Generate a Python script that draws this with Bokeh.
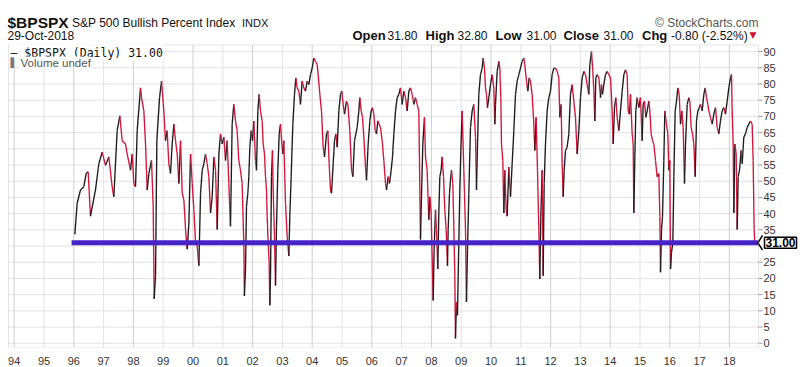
from bokeh.plotting import figure
from bokeh.models import ColumnDataSource, FixedTicker, Label, Range1d, BoxAnnotation
from bokeh.core.properties import value
from bokeh.embed import file_html
from bokeh.resources import INLINE

# ---- data ----
years = [
 1996.035,1996.113,1996.225,1996.337,1996.415,1996.482,1996.560,1996.728,1996.840,1996.952,
 1997.064,1997.176,1997.287,1997.343,1997.455,1997.545,1997.623,1997.735,1997.791,1997.903,1997.959,
 1998.015,1998.071,1998.127,1998.239,1998.272,1998.351,1998.407,1998.463,1998.519,1998.608,1998.664,
 1998.698,1998.743,1998.787,1998.877,1998.944,
 1999.021,1999.077,1999.133,1999.189,1999.245,1999.301,1999.358,1999.414,1999.470,1999.526,1999.582,
 1999.638,1999.694,1999.750,1999.806,1999.862,1999.918,1999.974,
 2000.030,2000.086,2000.140,2000.197,2000.253,2000.309,2000.364,2000.420,2000.476,2000.532,2000.588,
 2000.644,2000.700,2000.756,2000.812,2000.868,2000.923,2000.979,
 2001.035,2001.091,2001.147,2001.202,2001.258,2001.314,2001.370,2001.426,2001.482,2001.537,2001.593,
 2001.649,2001.705,2001.725,2001.762,2001.795,2001.840,2001.874,2001.907,2001.952,2001.997,
 2002.041,2002.097,2002.131,2002.176,2002.220,2002.265,2002.321,2002.355,2002.399,2002.433,2002.466,
 2002.489,2002.522,2002.556,2002.578,2002.601,2002.634,2002.668,2002.690,2002.735,2002.769,2002.802,
 2002.847,2002.892,2002.936,2002.981,
 2003.015,2003.048,2003.104,2003.160,2003.216,2003.249,2003.294,2003.350,2003.406,2003.451,2003.496,
 2003.552,2003.607,2003.663,2003.719,2003.775,2003.831,2003.887,2003.943,2003.999,
 2004.055,2004.111,2004.167,2004.200,2004.256,2004.312,2004.368,2004.413,2004.480,2004.525,2004.569,
 2004.614,2004.648,2004.704,2004.748,2004.793,2004.838,2004.894,2004.950,2004.994,
 2005.039,2005.084,2005.151,2005.196,2005.263,2005.319,2005.364,2005.420,2005.464,2005.509,2005.565,
 2005.598,2005.643,2005.688,2005.733,2005.789,2005.822,2005.878,2005.934,2005.979,
 2006.024,2006.068,2006.113,2006.158,2006.203,2006.247,2006.292,2006.348,2006.404,2006.460,2006.494,
 2006.550,2006.594,2006.650,2006.695,2006.740,2006.796,2006.852,2006.907,2006.963,
 2007.019,2007.075,2007.131,2007.187,2007.243,2007.299,2007.355,2007.411,2007.466,2007.522,2007.578,
 2007.634,2007.667,2007.712,2007.768,2007.802,2007.857,2007.913,2007.947,2007.992,
 2008.025,2008.059,2008.092,2008.137,2008.171,2008.215,2008.249,2008.283,2008.327,2008.361,2008.406,
 2008.450,2008.495,2008.540,2008.562,2008.607,2008.640,2008.674,2008.719,2008.752,2008.786,2008.808,
 2008.842,2008.875,2008.920,2008.954,2008.987,
 2009.032,2009.088,2009.144,2009.177,2009.211,2009.256,2009.312,2009.368,2009.423,2009.480,2009.513,
 2009.547,2009.591,2009.647,2009.703,2009.737,2009.782,2009.815,2009.849,2009.882,2009.927,2009.983,
 2010.039,2010.095,2010.128,2010.151,2010.207,2010.263,2010.296,2010.330,2010.352,2010.397,2010.430,
 2010.464,2010.509,2010.542,2010.598,2010.654,2010.710,2010.766,2010.822,2010.878,2010.934,2010.990,
 2011.045,2011.101,2011.135,2011.191,2011.236,2011.280,2011.325,2011.381,2011.437,2011.470,2011.515,
 2011.560,2011.605,2011.638,2011.672,2011.717,2011.750,2011.784,2011.828,2011.884,2011.940,2011.996,
 2012.052,2012.108,2012.164,2012.220,2012.276,2012.309,2012.354,2012.388,2012.421,2012.455,2012.500,
 2012.555,2012.611,2012.667,2012.723,2012.779,2012.835,2012.891,2012.947,
 2013.003,2013.059,2013.115,2013.171,2013.227,2013.283,2013.316,2013.372,2013.417,2013.451,2013.484,
 2013.518,2013.563,2013.619,2013.675,2013.708,2013.742,2013.786,2013.842,2013.898,2013.954,
 2014.010,2014.066,2014.100,2014.144,2014.189,2014.234,2014.290,2014.346,2014.402,2014.458,2014.513,
 2014.569,2014.603,2014.648,2014.681,2014.737,2014.771,2014.793,2014.827,2014.860,2014.905,2014.961,
 2015.017,2015.073,2015.106,2015.151,2015.196,2015.241,2015.297,2015.330,2015.375,2015.420,2015.464,
 2015.520,2015.576,2015.632,2015.666,2015.688,2015.722,2015.755,2015.800,2015.833,2015.889,2015.934,
 2015.968,
 2016.001,2016.024,2016.057,2016.102,2016.136,2016.180,2016.225,2016.270,2016.315,2016.359,2016.404,
 2016.449,2016.493,2016.527,2016.583,2016.639,2016.672,2016.717,2016.762,2016.807,2016.851,2016.896,
 2016.941,2016.986,
 2017.030,2017.086,2017.142,2017.187,2017.232,2017.276,2017.310,2017.366,2017.422,2017.478,2017.534,
 2017.590,2017.646,2017.701,2017.757,2017.813,2017.869,2017.925,2017.981,
 2018.037,2018.071,2018.093,2018.127,2018.149,2018.183,2018.227,2018.261,2018.294,2018.339,2018.395,
 2018.429,2018.484,2018.540,2018.596,2018.652,2018.708,2018.764,2018.797,2018.831,2018.853,
]
bpi = [
 33.6,43.2,47.3,48.3,52.4,52.9,39.2,47.3,55.4,59.0,
 54.9,57.5,48.3,45.2,65.6,70.2,62.5,61.5,58.4,53.4,58.4,
 49.3,48.3,65.6,78.8,75.8,71.7,61.5,47.3,52.4,56.4,42.2,
 13.7,20.9,62.5,75.8,80.9,
 71.7,62.5,65.6,55.4,52.4,61.5,67.6,62.5,58.4,49.3,62.5,
 46.3,44.2,35.1,29.0,37.1,58.4,49.3,
 41.2,31.0,30.0,23.9,46.3,53.4,55.4,58.4,55.4,51.4,40.2,
 45.2,57.5,53.4,35.1,58.4,64.6,61.5,
 63.6,56.4,62.5,49.3,36.1,67.6,73.7,68.6,65.6,56.4,53.4,
 49.3,31.0,14.6,22.9,42.2,46.3,51.4,60.5,65.6,62.5,
 68.6,56.4,53.4,71.7,76.8,71.7,68.6,61.5,58.4,51.4,47.3,
 39.2,31.0,24.9,11.7,20.8,51.4,59.5,47.3,33.0,17.8,36.1,
 53.4,64.6,67.6,61.5,
 58.4,62.5,43.2,33.0,26.9,39.2,51.4,67.6,76.8,81.9,78.8,
 77.8,73.7,80.9,78.8,77.8,80.9,79.8,82.9,84.9,
 88.0,87.0,86.0,82.9,76.8,71.7,60.5,57.5,64.6,65.6,55.4,
 47.3,46.3,55.4,62.5,64.6,60.5,71.7,76.8,77.8,
 73.7,70.7,74.7,73.7,65.6,53.4,51.4,62.5,64.6,66.6,71.7,
 75.8,71.7,69.7,63.6,54.4,50.3,61.5,68.6,71.7,
 72.7,70.7,65.6,64.6,68.6,67.6,66.6,62.5,56.4,49.3,47.3,
 51.4,49.3,53.4,57.5,64.6,71.7,75.8,76.8,78.8,
 73.7,77.8,75.8,71.7,77.8,78.8,76.8,73.7,75.8,73.7,71.7,
 32.0,45.2,61.5,69.7,57.5,53.4,38.1,45.2,40.2,
 26.9,13.2,29.0,41.2,35.1,22.9,40.2,51.4,53.4,57.5,51.4,
 41.2,35.1,23.9,35.1,46.3,50.3,53.4,49.3,36.1,20.8,1.5,
 12.7,8.6,31.0,47.3,59.5,
 71.7,53.4,35.1,12.7,29.0,46.3,66.6,71.7,73.7,63.6,47.3,
 61.5,76.8,82.9,84.9,88.0,84.9,78.8,76.8,72.7,75.8,79.8,
 82.9,78.8,67.6,73.7,83.9,87.0,84.9,75.8,61.5,56.4,40.2,
 53.4,41.2,39.2,54.4,45.2,55.4,65.6,76.8,80.9,82.9,84.9,
 87.0,88.0,85.9,80.9,77.8,81.9,80.9,76.8,67.6,59.5,69.7,
 53.4,35.1,19.8,39.2,53.4,20.8,49.3,61.5,71.7,75.8,77.8,
 82.9,84.9,84.9,83.9,81.9,69.7,73.7,55.4,45.2,53.4,59.5,
 60.5,64.6,76.8,79.8,74.7,69.7,58.4,65.6,
 75.8,81.9,83.9,82.9,79.8,76.8,85.9,90.0,83.9,78.0,68.6,
 81.9,82.9,81.9,75.8,79.8,76.8,79.8,82.9,83.9,82.9,
 81.9,71.7,61.5,72.7,75.8,69.7,65.6,71.7,77.8,82.9,84.4,
 82.9,71.7,70.7,76.8,64.6,61.5,40.2,57.5,71.7,75.8,72.7,
 75.8,62.5,73.7,74.7,69.7,71.7,74.7,71.7,64.6,62.5,61.5,
 56.4,51.4,52.4,39.2,21.9,35.1,39.2,56.4,71.7,67.6,64.6,
 53.4,
 56.4,22.9,28.0,31.0,51.4,71.7,74.7,78.8,76.8,67.6,71.7,
 66.6,49.3,61.5,73.7,75.8,74.7,66.6,64.6,61.5,51.4,68.6,
 71.7,72.7,
 73.7,71.7,76.8,78.8,75.8,73.7,71.7,69.7,67.6,70.7,72.7,
 66.6,64.6,68.6,71.7,72.7,70.7,74.7,78.8,
 81.9,82.9,71.7,61.5,40.2,61.5,58.4,35.1,51.4,53.4,59.5,
 55.4,63.6,64.6,66.6,67.6,68.6,67.6,56.4,35.1,31.0,
]
year_ticks = list(range(1994, 2019))
year_labels = ["94", "95", "96", "97", "98", "99", "00", "01", "02", "03", "04", "05", "06",
               "07", "08", "09", "10", "11", "12", "13", "14", "15", "16", "17", "18"]
value_ticks = list(range(0, 95, 5))
value_labels = [str(v) for v in value_ticks]
last_close = 31.00
quote_names = ["Open", "High", "Low", "Close", "Chg"]
quote_values = ["31.80", "32.80", "31.00", "31.00", "-0.80 (-2.52%)"]

# ---- layout (page pixels -> data coordinates) ----
W, H = 800, 367
FB = 351                      # bottom of the drawing frame (x axis below it)
PX_PER_YEAR, X1996 = 29.8, 73.3
PX_PER_UNIT, Y0 = 3.278, 346.7
def X(px): return 1996 + (px - X1996) / PX_PER_YEAR
def V(py): return (Y0 - py) / PX_PER_UNIT
def DX(px): return px / PX_PER_YEAR
def DV(px): return px / PX_PER_UNIT
XL, XR, YT, YB = X(8), X(758), V(45), V(351)   # chart box

FONT = "Liberation Sans"
RED, BLACK, BLUE = "#d2153c", "#1c1c1c", "#4623c8"
GRID, GRID2, BORDER = "#e2e2e2", "#cfcfcf", "#a9a9a9"

p = figure(width=W, height=H, output_backend="svg", toolbar_location=None,
           x_range=Range1d(X(0), X(W)), y_range=Range1d(V(FB), V(0)),
           y_axis_location=None, x_axis_location="below",
           min_border_left=0, min_border_right=0, min_border_top=0, min_border_bottom=H - FB)
p.background_fill_color = "white"
p.border_fill_color = "white"
p.outline_line_color = None
p.xgrid.grid_line_color = None
p.ygrid.grid_line_color = None

# grid inside the chart box
p.segment(x0=XL, x1=XR, y0=value_ticks, y1=value_ticks, line_color=GRID, line_width=1)
odd_years = [y for y in year_ticks if y % 2]
even_years = [y for y in year_ticks if not y % 2]
p.segment(x0=odd_years, x1=odd_years, y0=YB, y1=YT, line_color=GRID, line_width=1)
p.segment(x0=even_years, x1=even_years, y0=YB, y1=YT, line_color=GRID2, line_width=1)
p.add_layout(BoxAnnotation(left=XL, right=XR, bottom=YB, top=YT, fill_alpha=0,
                           line_color=BORDER, line_width=1))

# price line, coloured by direction
x0 = years[:-1]; x1 = years[1:]; y0 = bpi[:-1]; y1 = bpi[1:]
cols = [BLACK if b >= a else RED for a, b in zip(y0, y1)]
src = ColumnDataSource(dict(x0=x0, x1=x1, y0=y0, y1=y1, c=cols))
p.segment("x0", "y0", "x1", "y1", source=src, line_color="c", line_width=1.35)

# horizontal line at last close
p.segment(x0=[years[0] - 0.11], y0=[last_close], x1=[XR], y1=[last_close],
          line_color=BLUE, line_width=5, line_cap="butt")

# right value scale (ticks + labels)
shown = [(t, s) for t, s in zip(value_ticks, value_labels) if abs(t - last_close) > 2]
p.segment(x0=XR, x1=XR + DX(4), y0=value_ticks, y1=value_ticks, line_color="#999999")
p.text(x=XR + DX(5), y=[t for t, s in shown], text=[s for t, s in shown],
       text_font=value(FONT), text_font_size=value("11px"), text_color="#333333",
       text_align="left", text_baseline="middle")

# last value box with pointer
bx = XR + DX(4)
p.patch(x=[XR - DX(0.5), bx, bx], y=[last_close, last_close + DV(7.5), last_close - DV(7.5)],
        fill_color="white", line_color=None)
p.line(x=[bx, XR - DX(0.5), bx], y=[last_close + DV(7.5), last_close, last_close - DV(7.5)],
       line_color="black", line_width=1.5)
p.add_layout(Label(x=bx + DX(2), y=last_close, x_units="data", y_units="data",
                   text="%.2f" % last_close, text_font=FONT, text_font_size="12px",
                   text_font_style="bold", text_color="black", text_align="left",
                   text_baseline="middle", background_fill_color="white",
                   border_line_color="black", border_line_width=1.5, padding=1))

# x axis
p.xaxis.ticker = FixedTicker(ticks=year_ticks)
p.xaxis.major_label_overrides = dict(zip(year_ticks, year_labels))
p.xaxis.major_tick_line_color = None
p.xaxis.minor_tick_line_color = None
p.xaxis.axis_line_color = None
p.xaxis.major_label_standoff = 3
p.xaxis.major_label_text_font = FONT
p.xaxis.major_label_text_font_size = "11px"
p.xaxis.major_label_text_color = "#333333"

def lab(px, py, text, size, style="normal", color="#111111", font=FONT, align="left", **kw):
    p.add_layout(Label(x=px, y=FB - py, x_units="screen", y_units="screen", text=text,
                       text_font=font, text_font_size=size, text_font_style=style,
                       text_color=color, text_align=align, text_baseline="alphabetic", **kw))

# header
lab(7, 26, "$BPSPX", "15.5px", "bold")
lab(71.5, 26, "S&P 500 Bullish Percent Index", "12px")
lab(241.5, 26, "INDX", "11px")
lab(7, 39, "29-Oct-2018", "12px")
lab(758, 26, "\u00a9 StockCharts.com", "12px", color="#555555", align="right")

name_x = [352, 425, 495, 563, 641.5]
value_x = [387, 457, 526, 603, 670.5]
for nm, vv, nx, vx in zip(quote_names, quote_values, name_x, value_x):
    lab(nx, 39, nm, "13px", "bold")
    lab(vx, 39, vv, "12px")
lab(749, 38, "\u25bc", "9px", color="#cc1133", font="DejaVu Sans")

# in-chart legend
lab(9, 56, "\u2014 $BPSPX (Daily) %.2f" % bpi[-1], "11.5px", color="#111111",
    font="DejaVu Sans Mono", background_fill_color="white", padding=1)
lab(10, 66, "\u258c", "9px", color="#777777", font="DejaVu Sans")
lab(20, 66, "Volume undef", "11.5px", color="#555555", background_fill_color="white")

open("out.html", "w").write(file_html(p, INLINE))
